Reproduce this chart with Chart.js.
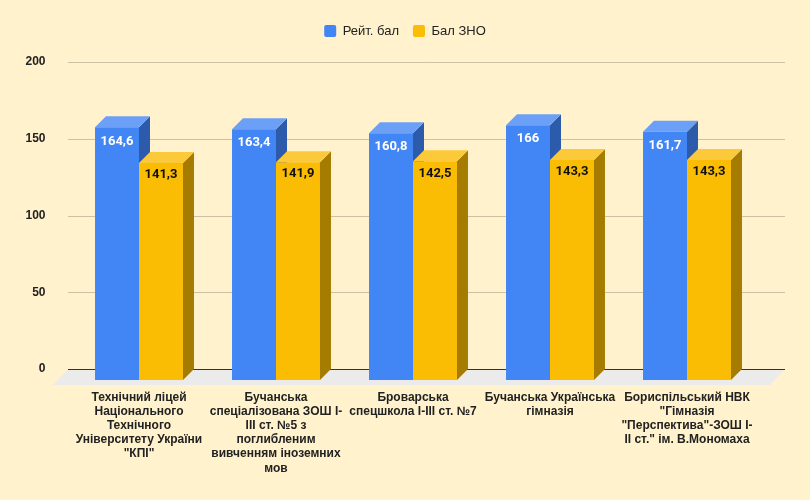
<!DOCTYPE html>
<html>
<head>
<meta charset="utf-8">
<script src="https://cdn.jsdelivr.net/npm/chart.js@4.4.1/dist/chart.umd.min.js"></script>
<style>
  body { margin: 0; background: #FFF2CC; }
  #wrap { width: 810px; height: 500px; position: relative; }
</style>
</head>
<body>
<div id="wrap"><canvas id="myChart"></canvas></div>
<script>
// назви шкіл (розбиті на рядки як на картинці)
const schools = [
  ["Технічний ліцей", "Національного", "Технічного", "Університету України", "\"КПІ\""],
  ["Бучанська", "спеціалізована ЗОШ І-", "ІІІ ст. №5 з", "поглибленим", "вивченням іноземних", "мов"],
  ["Броварська", "спецшкола І-ІІІ ст. №7"],
  ["Бучанська Українська", "гімназія"],
  ["Бориспільський НВК", "\"Гімназія", "\"Перспектива\"-ЗОШ І-", "ІІ ст.\" ім. В.Мономаха"]
];
const ratingScores = [164.6, 163.4, 160.8, 166, 161.7];
const znoScores = [141.3, 141.9, 142.5, 143.3, 143.3];
const yTicks = [0, 50, 100, 150, 200];

const DX = 11, DY = 11; // глибина 3D

function shade(i) {
  return i === 0
    ? { side: "#2D5BAB", top: "#6C9FF6" }
    : { side: "#A67C00", top: "#FCC93A" };
}

// бокові та верхні грані стовпчиків
function drawFaces(chart, i) {
  const ctx = chart.ctx;
  const c = shade(i);
  ctx.save();
  chart.getDatasetMeta(i).data.forEach((bar) => {
    const l = bar.x - bar.width / 2, r = bar.x + bar.width / 2;
    const t = bar.y, b = bar.base;
    ctx.fillStyle = c.side;
    ctx.beginPath();
    ctx.moveTo(r, b);
    ctx.lineTo(r + DX, b - DY);
    ctx.lineTo(r + DX, t - DY);
    ctx.lineTo(r, t);
    ctx.closePath();
    ctx.fill();
    ctx.fillStyle = c.top;
    ctx.beginPath();
    ctx.moveTo(l, t);
    ctx.lineTo(l + DX, t - DY);
    ctx.lineTo(r + DX, t - DY);
    ctx.lineTo(r, t);
    ctx.closePath();
    ctx.fill();
  });
  ctx.restore();
}

const bars3d = {
  id: "bars3d",
  afterInit(chart) {
    // більше місця під легендою
    const lg = chart.legend;
    const fit = lg.fit;
    lg.fit = function () {
      fit.call(this);
      this.height = 62.5;
    };
  },
  afterLayout(chart) {
    // легенда по центру всього полотна
    const lg = chart.legend;
    const shift = (chart.width - (lg.left + lg.right)) / 2;
    lg.left += shift;
    lg.right += shift;
  },
  beforeDatasetsDraw(chart) {
    const ctx = chart.ctx;
    const a = chart.chartArea;
    const y = chart.scales.y;
    ctx.save();
    // підлога
    ctx.fillStyle = "#EBEBEB";
    ctx.beginPath();
    ctx.moveTo(a.left - 17.5, a.bottom + 5);
    ctx.lineTo(a.right + 14.5, a.bottom + 5);
    ctx.lineTo(a.right + 29.5, a.bottom - DY);
    ctx.lineTo(a.left - 2.5, a.bottom - DY);
    ctx.closePath();
    ctx.fill();
    // сітка на задній стінці
    yTicks.forEach((v) => {
      const py = Math.round(y.getPixelForValue(v) - DY) + 0.5;
      ctx.strokeStyle = v === 0 ? "#333333" : "#CBC2A4";
      ctx.lineWidth = 1;
      ctx.beginPath();
      ctx.moveTo(a.left - 2.5, py);
      ctx.lineTo(a.right + 29.5, py);
      ctx.stroke();
    });
    ctx.restore();
    drawFaces(chart, 0);
  },
  afterDatasetsDraw(chart) {
    drawFaces(chart, 1);
    const ctx = chart.ctx;
    ctx.save();
    ctx.font = "bold 13px Roboto";
    ctx.textAlign = "center";
    ctx.textBaseline = "middle";
    chart.data.datasets.forEach((ds, i) => {
      ctx.fillStyle = i === 0 ? "#FFFFFF" : "#111111";
      chart.getDatasetMeta(i).data.forEach((bar, j) => {
        const txt = String(ds.data[j]).replace(".", ",");
        ctx.fillText(txt, bar.x, bar.y + (i === 0 ? 14 : 12));
      });
    });
    ctx.restore();
  }
};

new Chart(document.getElementById("myChart"), {
  type: "bar",
  data: {
    labels: schools,
    datasets: [
      { label: "Рейт. бал", data: ratingScores, backgroundColor: "#4285F4" },
      { label: "Бал ЗНО", data: znoScores, backgroundColor: "#FBBC04" }
    ]
  },
  options: {
    responsive: true,
    maintainAspectRatio: false,
    animation: false,
    barPercentage: 1,
    categoryPercentage: 0.642,
    layout: { padding: { left: 0, right: 54.5, top: 10.5, bottom: 0 } },
    plugins: {
      tooltip: { enabled: false },
      legend: {
        position: "top",
        labels: {
          font: { family: "Liberation Sans", size: 13 },
          color: "#222222",
          boxWidth: 12,
          boxHeight: 12,
          useBorderRadius: true,
          borderRadius: 2,
          padding: 14
        }
      }
    },
    scales: {
      x: {
        afterFit(scale) { scale.height = 120; },
        grid: { display: false, drawTicks: false },
        border: { display: false },
        ticks: {
          color: "#222222",
          font: { family: "Liberation Sans", size: 12, weight: "bold", lineHeight: 1.17 },
          padding: 11,
          maxRotation: 0,
          autoSkip: false
        }
      },
      y: {
        min: 0,
        max: 200,
        afterFit(scale) { scale.width = 70.5; },
        grid: { display: false, drawTicks: false },
        border: { display: false },
        ticks: {
          stepSize: 50,
          color: "#222222",
          font: { family: "Liberation Sans", size: 12, weight: "bold" },
          padding: 25,
          labelOffset: -11
        }
      }
    }
  },
  plugins: [bars3d]
});
</script>
</body>
</html>
